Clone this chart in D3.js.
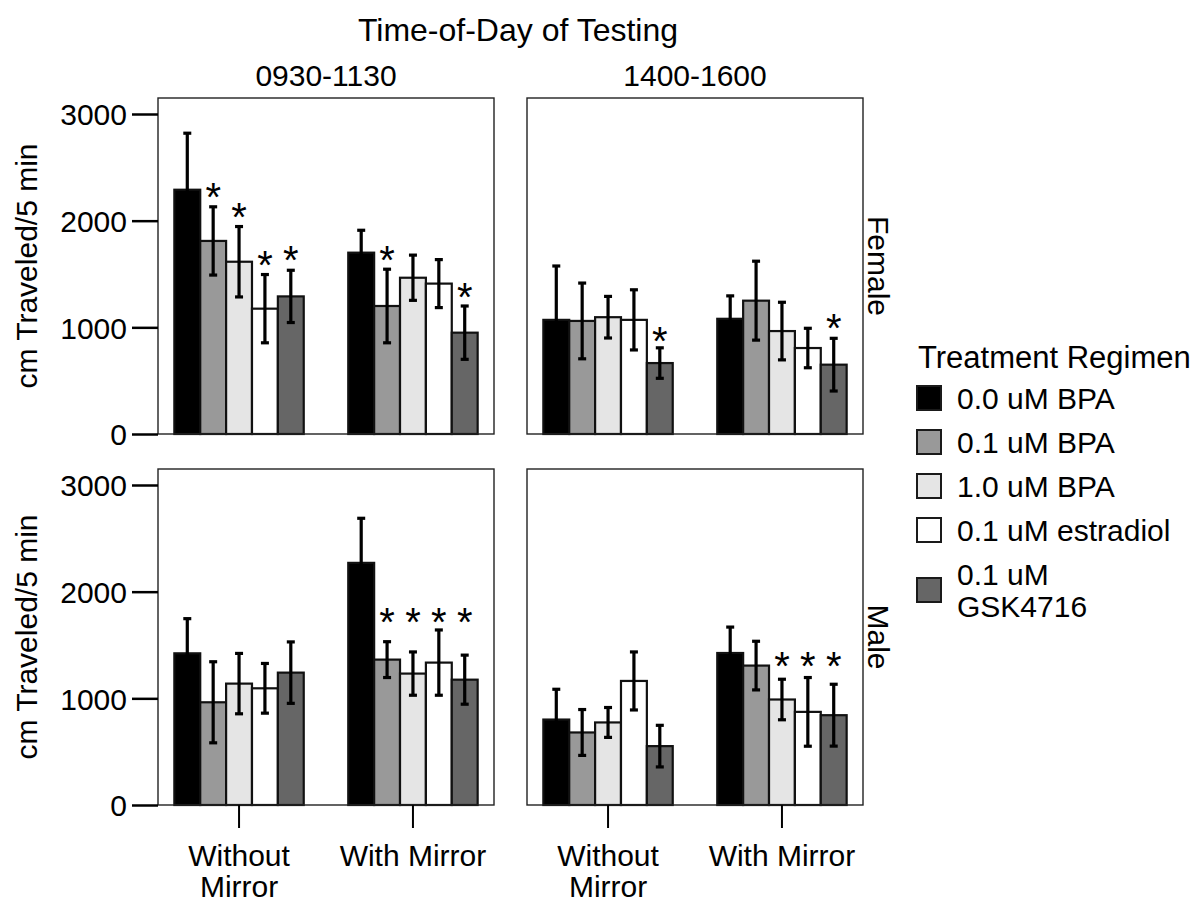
<!DOCTYPE html>
<html>
<head>
<meta charset="utf-8">
<script src="https://cdn.jsdelivr.net/npm/d3@7"></script>
<style>
  body { margin: 0; background: #fff; }
  text { font-family: "Liberation Sans", Arial, sans-serif; fill: #000; }
</style>
</head>
<body>
<div id="chart"></div>
<script>
// ---- data ----
const treatments = ["0.0 uM BPA", "0.1 uM BPA", "1.0 uM BPA", "0.1 uM estradiol", "0.1 uM GSK4716"];
const treatmentFills = ["#000000", "#999999", "#e5e5e5", "#ffffff", "#666666"];
const conditions = ["Without Mirror", "With Mirror"];
const conditionLines = [["Without", "Mirror"], ["With Mirror"]];
const times = ["0930-1130", "1400-1600"];
const sexes = ["Female", "Male"];
const yTicks = [0, 1000, 2000, 3000];

// each array: 5 treatments Without Mirror, then 5 treatments With Mirror
const femaleAMMeans = [2290, 1810, 1615, 1175, 1290, 1700, 1200, 1465, 1410, 950];
const femaleAMErrs  = [530, 320, 330, 320, 245, 210, 345, 212, 225, 250];
const femaleAMStars = [null, 2286, 2099, 1648, 1695, null, 1695, null, null, 1347];

const femalePMMeans = [1070, 1060, 1095, 1070, 665, 1080, 1250, 965, 806, 650];
const femalePMErrs  = [505, 355, 195, 282, 143, 215, 370, 270, 185, 247];
const femalePMStars = [null, null, null, null, 940, null, null, null, null, 1060];

const maleAMMeans = [1422, 963, 1138, 1094, 1241, 2270, 1363, 1232, 1335, 1175];
const maleAMErrs  = [325, 380, 283, 233, 288, 418, 168, 203, 306, 230];
const maleAMStars = [null, null, null, null, null, null, 1784, 1784, 1784, 1784];

const malePMMeans = [801, 680, 774, 1163, 552, 1425, 1307, 989, 873, 842];
const malePMErrs  = [284, 215, 140, 272, 195, 243, 228, 190, 322, 290];
const malePMStars = [null, null, null, null, null, null, null, 1363, 1363, 1363];

const panels = [
    { sex: "Female", time: "0930-1130", means: femaleAMMeans, errs: femaleAMErrs, stars: femaleAMStars },
    { sex: "Female", time: "1400-1600", means: femalePMMeans, errs: femalePMErrs, stars: femalePMStars },
    { sex: "Male",   time: "0930-1130", means: maleAMMeans,   errs: maleAMErrs,   stars: maleAMStars },
    { sex: "Male",   time: "1400-1600", means: malePMMeans,   errs: malePMErrs,   stars: malePMStars }
];

// ---- layout ----
const width = 1195, height = 903;
const panelW = 336, panelH = 336;
const fs = 30;

const svg = d3.select("#chart")
    .append("svg")
    .attr("width", width)
    .attr("height", height);

const panelX = d3.scaleBand().domain(times).range([158, 863]).paddingInner(33 / 369);
const panelY = d3.scaleOrdinal().domain(sexes).range([98, 469]);

const y = d3.scaleLinear().domain([0, 3150]).range([panelH, 0]);
const xGroup = d3.scaleBand().domain(conditions).range([0, panelW])
    .paddingInner(0.256).paddingOuter(0.094);
const xInner = d3.scaleBand().domain(treatments).range([0, xGroup.bandwidth()]);
const fill = d3.scaleOrdinal().domain(treatments).range(treatmentFills);

panels.forEach(p => {
    const g = svg.append("g")
        .attr("transform", `translate(${panelX(p.time)},${panelY(p.sex)})`);

    const rows = [];
    conditions.forEach((c, ci) => {
        treatments.forEach((t, ti) => {
            const k = ci * treatments.length + ti;
            rows.push({ cond: c, trt: t, mean: p.means[k], err: p.errs[k], star: p.stars[k] });
        });
    });

    g.append("rect")
        .attr("width", panelW).attr("height", panelH)
        .attr("fill", "#fff");

    g.selectAll(".bar")
        .data(rows)
        .join("rect")
        .attr("class", "bar")
        .attr("x", d => xGroup(d.cond) + xInner(d.trt))
        .attr("y", d => y(d.mean))
        .attr("width", xInner.bandwidth())
        .attr("height", d => y(0) - y(d.mean))
        .attr("fill", d => fill(d.trt))
        .attr("stroke", "#111")
        .attr("stroke-width", 2.2);

    const cx = d => xGroup(d.cond) + xInner(d.trt) + xInner.bandwidth() / 2;
    const eb = g.selectAll(".err")
        .data(rows)
        .join("g")
        .attr("class", "err")
        .attr("stroke", "#000")
        .attr("stroke-width", 3.2);
    eb.append("line")
        .attr("x1", cx).attr("x2", cx)
        .attr("y1", d => y(d.mean - d.err))
        .attr("y2", d => y(d.mean + d.err));
    eb.append("line")
        .attr("x1", d => cx(d) - 4).attr("x2", d => cx(d) + 4)
        .attr("y1", d => y(d.mean + d.err)).attr("y2", d => y(d.mean + d.err));
    eb.append("line")
        .attr("x1", d => cx(d) - 4).attr("x2", d => cx(d) + 4)
        .attr("y1", d => y(d.mean - d.err)).attr("y2", d => y(d.mean - d.err));

    // significance stars
    g.selectAll(".star")
        .data(rows.filter(d => d.star != null))
        .join("text")
        .attr("class", "star")
        .attr("x", cx)
        .attr("y", d => y(d.star))
        .attr("dy", "0.52em")
        .attr("text-anchor", "middle")
        .style("font-size", "40px")
        .text("*");

    g.append("rect")
        .attr("width", panelW).attr("height", panelH)
        .attr("fill", "none")
        .attr("stroke", "#222")
        .attr("stroke-width", 1.4);

    // y axis on left column
    if (p.time === times[0]) {
        const ya = g.append("g")
            .call(d3.axisLeft(y).tickValues(yTicks).tickFormat(d3.format("d")).tickSize(26).tickPadding(5));
        ya.select(".domain").remove();
        ya.selectAll(".tick line").attr("stroke", "#000").attr("stroke-width", 2.5);
        ya.selectAll(".tick text").style("font-size", fs + "px").attr("dy", "0.36em");

        g.append("text")
            .attr("transform", `translate(${37 - panelX(p.time)},${panelH / 2}) rotate(-90)`)
            .attr("text-anchor", "middle")
            .style("font-size", fs + "px")
            .text("cm Traveled/5 min");
    }

    // x axis on bottom row
    if (p.sex === sexes[1]) {
        const xa = g.append("g")
            .attr("transform", `translate(0,${panelH})`)
            .call(d3.axisBottom(xGroup).tickSize(23).tickFormat(""));
        xa.select(".domain").remove();
        xa.selectAll(".tick line").attr("stroke", "#000").attr("stroke-width", 2);
        xa.selectAll(".tick").each(function(d, i) {
            const t = d3.select(this).append("text")
                .attr("text-anchor", "middle")
                .style("font-size", fs + "px");
            conditionLines[i].forEach((line, li) => {
                t.append("tspan").attr("x", 0).attr("y", 61 + li * 31).text(line);
            });
        });
    }

    // column strip
    if (p.sex === sexes[0]) {
        g.append("text")
            .attr("x", panelW / 2)
            .attr("y", -12)
            .attr("text-anchor", "middle")
            .style("font-size", fs + "px")
            .text(p.time);
    }

    // row strip
    if (p.time === times[1]) {
        g.append("text")
            .attr("transform", `translate(${panelW + 5},${panelH / 2}) rotate(90)`)
            .attr("text-anchor", "middle")
            .style("font-size", fs + "px")
            .text(p.sex);
    }
});

// overall title
svg.append("text")
    .attr("x", 518)
    .attr("y", 41)
    .attr("text-anchor", "middle")
    .style("font-size", "32px")
    .text("Time-of-Day of Testing");

// legend
const legend = svg.append("g").attr("transform", "translate(916,0)");
legend.append("text")
    .attr("x", 2)
    .attr("y", 368)
    .style("font-size", "31px")
    .text("Treatment Regimen");

const legendLines = [["0.0 uM BPA"], ["0.1 uM BPA"], ["1.0 uM BPA"], ["0.1 uM estradiol"], ["0.1 uM", "GSK4716"]];
let rowY = 376;
treatments.forEach((t, i) => {
    const lines = legendLines[i];
    const h = 12 + lines.length * 32;
    const c = rowY + h / 2;
    const item = legend.append("g");
    item.append("rect")
        .attr("x", 1).attr("y", c - 12)
        .attr("width", 24).attr("height", 24)
        .attr("fill", fill(t))
        .attr("stroke", "#1a1a1a")
        .attr("stroke-width", 2);
    const txt = item.append("text").style("font-size", fs + "px");
    lines.forEach((line, li) => {
        txt.append("tspan")
            .attr("x", 41)
            .attr("y", c + 11 - (lines.length - 1) * 16 + li * 32)
            .text(line);
    });
    rowY += h;
});
</script>
</body>
</html>
